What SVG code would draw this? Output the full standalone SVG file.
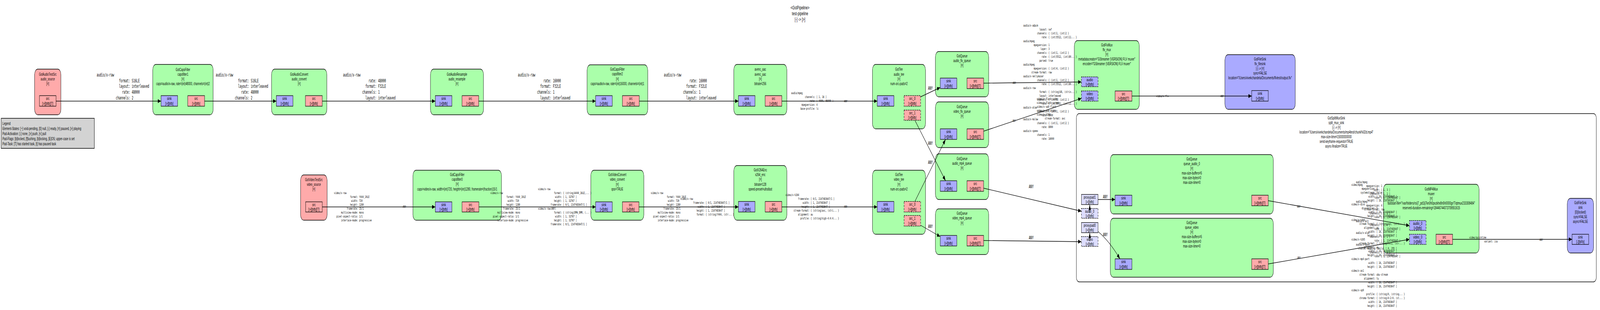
<svg xmlns="http://www.w3.org/2000/svg" width="6936" height="794" viewBox="0 0 6936 794" preserveAspectRatio="none">
<style>
svg{width:100vw;height:100vh;display:block}
.nd{stroke:#000;stroke-width:1.3}
.g{fill:#aaffaa}.r{fill:#ffaaaa}.b{fill:#aaaaff}
.ps{fill:#aaaaff;stroke:#000;stroke-width:1.3}
.pr{fill:#ffaaaa;stroke:#000;stroke-width:1.3}
.pg{fill:#ddddff;stroke:#000;stroke-width:1.3}
.d{stroke-dasharray:5,3}
text{fill:#000}
.t{font-family:"Liberation Sans",Arial,sans-serif;font-size:10.3px;text-anchor:middle}
.p{font-family:"Liberation Sans",Arial,sans-serif;font-size:11.3px;text-anchor:middle}
.lg{font-family:"Liberation Sans",Arial,sans-serif;font-size:10.5px}
.ti{font-family:"Liberation Sans",Arial,sans-serif;font-size:13px;text-anchor:middle}
.m{font-family:"DejaVu Sans Mono","Liberation Mono",monospace;font-size:11.4px}
.s{font-family:"DejaVu Sans Mono","Liberation Mono",monospace;font-size:8.2px}
.k{text-anchor:end}
.e{fill:none;stroke:#000;stroke-width:1.3;marker-end:url(#ah)}
</style>
<defs>
<marker id="ah" viewBox="0 0 14 10" refX="14" refY="5" markerWidth="14" markerHeight="10" orient="auto" markerUnits="userSpaceOnUse"><path d="M0,0 L14,5 L0,10 z" fill="#000"/></marker>
</defs>
<rect width="6936" height="794" fill="#fff"/>

<g id="title">
<text class="ti" x="3468" y="24">&lt;GstPipeline&gt;</text>
<text class="ti" x="3468" y="39">test-pipeline</text>
<text class="ti" x="3468" y="54">[-] -&gt; [&gt;]</text>
</g>

<g id="legend">
<rect x="5" y="303" width="404" height="77" fill="#d3d3d3" stroke="#000" stroke-width="1.5"/>
<text class="lg" x="10.5" y="320">Legend</text>
<text class="lg" x="10.5" y="333">Element-States: [~] void-pending, [0] null, [-] ready, [=] paused, [&gt;] playing</text>
<text class="lg" x="10.5" y="346">Pad-Activation: [-] none, [&gt;] push, [&lt;] pull</text>
<text class="lg" x="10.5" y="359">Pad-Flags: [b]locked, [f]lushing, [b]locking, [E]OS; upper-case is set</text>
<text class="lg" x="10.5" y="372">Pad-Task: [T] has started task, [t] has paused task</text>
</g>

<g id="split_mux_sink">
<rect x="4666" y="291" width="2254" height="431" rx="12" fill="#fff" stroke="#000" stroke-width="1.3"/>
<text class="t" x="5793" y="306">GstSplitMuxSink</text>
<text class="t" x="5793" y="318">split_mux_sink</text>
<text class="t" x="5793" y="330">[-] -&gt; [=]</text>
<text class="t" x="5793" y="342">location="/Users/vivekchandela/Documents/mp4test/chunk%02d.mp4"</text>
<text class="t" x="5793" y="354">max-size-time=15000000000</text>
<text class="t" x="5793" y="366">send-keyframe-requests=TRUE</text>
<text class="t" x="5793" y="378">async-finalize=TRUE</text>
<rect class="pg" x="4688" y="498" width="72" height="26"/><text class="p" x="4724" y="509">proxypad1</text><text class="p" x="4724" y="521.5">[&gt;][bfb]</text>
<rect class="pg d" x="4688" y="534" width="72" height="25"/><text class="p" x="4724" y="545">audio_0</text><text class="p" x="4724" y="557">[&gt;][bfb]</text>
<rect class="pg" x="4688" y="570" width="72" height="26"/><text class="p" x="4724" y="581">proxypad0</text><text class="p" x="4724" y="593.5">[&gt;][bfb]</text>
<rect class="pg d" x="4688" y="606" width="72" height="25"/><text class="p" x="4724" y="617">video</text><text class="p" x="4724" y="629">[&gt;][bfb]</text>
</g>

<g id="audio_source">
<rect class="nd r" x="150" y="177" width="114" height="117" rx="14"/>
<text class="t" x="207" y="194">GstAudioTestSrc</text><text class="t" x="207" y="206">audio_source</text><text class="t" x="207" y="218">[=]</text>
<rect class="pr" x="171" y="245" width="72" height="27"/><text class="p" x="207" y="256.5">src</text><text class="p" x="207" y="269">[&gt;][bfb][T]</text>
</g>

<g id="capsfilter1">
<rect class="nd g" x="662" y="165" width="262" height="129" rx="14"/>
<text class="t" x="793" y="182">GstCapsFilter</text><text class="t" x="793" y="194">capsfilter1</text><text class="t" x="793" y="206">[=]</text><text class="t" x="793" y="218">caps=audio/x-raw, rate=(int)48000, channels=(int)2</text>
<rect class="ps" x="698" y="245" width="72" height="27"/><text class="p" x="734" y="256.5">sink</text><text class="p" x="734" y="269">[&gt;][bfb]</text>
<rect class="pr" x="814" y="245" width="73" height="27"/><text class="p" x="850.5" y="256.5">src</text><text class="p" x="850.5" y="269">[&gt;][bfb]</text>
</g>

<g id="audio_convert">
<rect class="nd g" x="1177" y="177" width="240" height="117" rx="14"/>
<text class="t" x="1297" y="194">GstAudioConvert</text><text class="t" x="1297" y="206">audio_convert</text><text class="t" x="1297" y="218">[=]</text>
<rect class="ps" x="1198" y="245" width="72" height="27"/><text class="p" x="1234" y="256.5">sink</text><text class="p" x="1234" y="269">[&gt;][bfb]</text>
<rect class="pr" x="1324" y="245" width="73" height="27"/><text class="p" x="1360.5" y="256.5">src</text><text class="p" x="1360.5" y="269">[&gt;][bfb]</text>
</g>

<g id="audio_resample">
<rect class="nd g" x="1866" y="177" width="230" height="117" rx="14"/>
<text class="t" x="1981" y="194">GstAudioResample</text><text class="t" x="1981" y="206">audio_resample</text><text class="t" x="1981" y="218">[=]</text>
<rect class="ps" x="1887" y="245" width="72" height="27"/><text class="p" x="1923" y="256.5">sink</text><text class="p" x="1923" y="269">[&gt;][bfb]</text>
<rect class="pr" x="2003" y="245" width="72" height="27"/><text class="p" x="2039" y="256.5">src</text><text class="p" x="2039" y="269">[&gt;][bfb]</text>
</g>

<g id="capsfilter2">
<rect class="nd g" x="2545" y="166" width="263" height="128" rx="14"/>
<text class="t" x="2676.5" y="181">GstCapsFilter</text><text class="t" x="2676.5" y="193">capsfilter2</text><text class="t" x="2676.5" y="206">[=]</text><text class="t" x="2676.5" y="218">caps=audio/x-raw, rate=(int)16000, channels=(int)1</text>
<rect class="ps" x="2582" y="245" width="72" height="27"/><text class="p" x="2618" y="256.5">sink</text><text class="p" x="2618" y="269">[&gt;][bfb]</text>
<rect class="pr" x="2698" y="245" width="73" height="27"/><text class="p" x="2734.5" y="256.5">src</text><text class="p" x="2734.5" y="269">[&gt;][bfb]</text>
</g>

<g id="avenc_aac">
<rect class="nd g" x="3181" y="165" width="230" height="129" rx="14"/>
<text class="t" x="3296" y="181">avenc_aac</text><text class="t" x="3296" y="194">avenc_aac</text><text class="t" x="3296" y="206">[=]</text><text class="t" x="3296" y="218">bitrate=256</text>
<rect class="ps" x="3201" y="245" width="72" height="27"/><text class="p" x="3237" y="256.5">sink</text><text class="p" x="3237" y="269">[&gt;][bfb]</text>
<rect class="pr" x="3317" y="245" width="72" height="27"/><text class="p" x="3353" y="256.5">src</text><text class="p" x="3353" y="269">[&gt;][bfb]</text>
</g>

<g id="audio_tee">
<rect class="nd g" x="3782" y="165" width="230" height="165" rx="14"/>
<text class="t" x="3897" y="181">GstTee</text><text class="t" x="3897" y="194">audio_tee</text><text class="t" x="3897" y="206">[=]</text><text class="t" x="3897" y="218">num-src-pads=2</text>
<rect class="ps" x="3803" y="245" width="72" height="27"/><text class="p" x="3839" y="256.5">sink</text><text class="p" x="3839" y="269">[&gt;][bfb]</text>
<rect class="pr d" x="3919" y="245" width="72" height="27"/><text class="p" x="3955" y="256.5">src_0</text><text class="p" x="3955" y="269">[&gt;][bfb]</text>
<rect class="pr d" x="3919" y="282" width="72" height="26"/><text class="p" x="3955" y="293">src_1</text><text class="p" x="3955" y="305.5">[&gt;][bfb]</text>
</g>

<g id="video_source">
<rect class="nd r" x="1303" y="448" width="115" height="116" rx="14"/>
<text class="t" x="1360.5" y="464">GstVideoTestSrc</text><text class="t" x="1360.5" y="476">video_source</text><text class="t" x="1360.5" y="488">[=]</text>
<rect class="pr" x="1325" y="517" width="72" height="26"/><text class="p" x="1361" y="528">src</text><text class="p" x="1361" y="540.5">[&gt;][bfb][T]</text>
</g>

<g id="capsfilter0">
<rect class="nd g" x="1790" y="436" width="384" height="128" rx="14"/>
<text class="t" x="1982" y="451">GstCapsFilter</text><text class="t" x="1982" y="463">capsfilter0</text><text class="t" x="1982" y="475">[=]</text><text class="t" x="1982" y="488">caps=video/x-raw, width=(int)720, height=(int)1280, framerate=(fraction)15/1</text>
<rect class="ps" x="1887" y="517" width="72" height="26"/><text class="p" x="1923" y="528">sink</text><text class="p" x="1923" y="540.5">[&gt;][bfb]</text>
<rect class="pr" x="2003" y="517" width="73" height="26"/><text class="p" x="2039.5" y="528">src</text><text class="p" x="2039.5" y="540.5">[&gt;][bfb]</text>
</g>

<g id="video_convert">
<rect class="nd g" x="2561" y="436" width="230" height="128" rx="14"/>
<text class="t" x="2676" y="451">GstVideoConvert</text><text class="t" x="2676" y="463">video_convert</text><text class="t" x="2676" y="476">[=]</text><text class="t" x="2676" y="488">qos=TRUE</text>
<rect class="ps" x="2582" y="517" width="72" height="26"/><text class="p" x="2618" y="528">sink</text><text class="p" x="2618" y="540.5">[&gt;][bfb]</text>
<rect class="pr" x="2698" y="517" width="72" height="26"/><text class="p" x="2734" y="528">src</text><text class="p" x="2734" y="540.5">[&gt;][bfb]</text>
</g>

<g id="x264_enc">
<rect class="nd g" x="3181" y="424" width="230" height="140" rx="14"/>
<text class="t" x="3296" y="439">GstX264Enc</text><text class="t" x="3296" y="451">x264_enc</text><text class="t" x="3296" y="463">[=]</text><text class="t" x="3296" y="476">bitrate=128</text><text class="t" x="3296" y="488">speed-preset=ultrafast</text>
<rect class="ps" x="3201" y="516" width="72" height="27"/><text class="p" x="3237" y="527.5">sink</text><text class="p" x="3237" y="540">[&gt;][bfb]</text>
<rect class="pr" x="3317" y="516" width="72" height="27"/><text class="p" x="3353" y="527.5">src</text><text class="p" x="3353" y="540">[&gt;][bfb]</text>
</g>

<g id="video_tee">
<rect class="nd g" x="3782" y="436" width="230" height="164" rx="14"/>
<text class="t" x="3897" y="451">GstTee</text><text class="t" x="3897" y="463">video_tee</text><text class="t" x="3897" y="476">[=]</text><text class="t" x="3897" y="488">num-src-pads=2</text>
<rect class="ps" x="3803" y="516" width="72" height="27"/><text class="p" x="3839" y="527.5">sink</text><text class="p" x="3839" y="540">[&gt;][bfb]</text>
<rect class="pr d" x="3919" y="516" width="72" height="27"/><text class="p" x="3955" y="527.5">src_0</text><text class="p" x="3955" y="540">[&gt;][bfb]</text>
<rect class="pr d" x="3919" y="552" width="72" height="27"/><text class="p" x="3955" y="563.5">src_1</text><text class="p" x="3955" y="576">[&gt;][bfb]</text>
</g>

<g id="audio_flv_queue">
<rect class="nd g" x="4055" y="132" width="231" height="116" rx="14"/>
<text class="t" x="4170.5" y="147">GstQueue</text><text class="t" x="4170.5" y="159">audio_flv_queue</text><text class="t" x="4170.5" y="171">[=]</text>
<rect class="ps" x="4076" y="200" width="72" height="27"/><text class="p" x="4112" y="211.5">sink</text><text class="p" x="4112" y="224">[&gt;][bfb]</text>
<rect class="pr" x="4192" y="200" width="72" height="27"/><text class="p" x="4228" y="211.5">src</text><text class="p" x="4228" y="224">[&gt;][bfb][T]</text>
</g>

<g id="video_flv_queue">
<rect class="nd g" x="4055" y="261" width="231" height="117" rx="14"/>
<text class="t" x="4170.5" y="277">GstQueue</text><text class="t" x="4170.5" y="289">video_flv_queue</text><text class="t" x="4170.5" y="301">[=]</text>
<rect class="ps" x="4076" y="330" width="72" height="27"/><text class="p" x="4112" y="341.5">sink</text><text class="p" x="4112" y="354">[&gt;][bfb]</text>
<rect class="pr" x="4192" y="330" width="72" height="27"/><text class="p" x="4228" y="341.5">src</text><text class="p" x="4228" y="354">[&gt;][bfb][T]</text>
</g>

<g id="audio_mp4_queue">
<rect class="nd g" x="4055" y="394" width="231" height="117" rx="14"/>
<text class="t" x="4170.5" y="410">GstQueue</text><text class="t" x="4170.5" y="422">audio_mp4_queue</text><text class="t" x="4170.5" y="434">[=]</text>
<rect class="ps" x="4076" y="463" width="72" height="27"/><text class="p" x="4112" y="474.5">sink</text><text class="p" x="4112" y="487">[&gt;][bfb]</text>
<rect class="pr" x="4192" y="463" width="72" height="27"/><text class="p" x="4228" y="474.5">src</text><text class="p" x="4228" y="487">[&gt;][bfb][T]</text>
</g>

<g id="video_mp4_queue">
<rect class="nd g" x="4055" y="535" width="231" height="117" rx="14"/>
<text class="t" x="4170.5" y="550">GstQueue</text><text class="t" x="4170.5" y="562">video_mp4_queue</text><text class="t" x="4170.5" y="575">[=]</text>
<rect class="ps" x="4076" y="603" width="72" height="27"/><text class="p" x="4112" y="614.5">sink</text><text class="p" x="4112" y="627">[&gt;][bfb]</text>
<rect class="pr" x="4192" y="603" width="72" height="27"/><text class="p" x="4228" y="614.5">src</text><text class="p" x="4228" y="627">[&gt;][bfb][T]</text>
</g>

<g id="flv_mux">
<rect class="nd g" x="4657" y="104" width="282" height="176" rx="14"/>
<text class="t" x="4798" y="119">GstFlvMux</text><text class="t" x="4798" y="131">flv_mux</text><text class="t" x="4798" y="143">[=]</text><text class="t" x="4798" y="155">metadatacreator="GStreamer {VERSION} FLV muxer"</text><text class="t" x="4798" y="167">encoder="GStreamer {VERSION} FLV muxer"</text>
<rect class="ps d" x="4688" y="197" width="72" height="25"/><text class="p" x="4724" y="208">audio</text><text class="p" x="4724" y="220">[&gt;][bfb]</text>
<rect class="ps d" x="4688" y="233" width="72" height="26"/><text class="p" x="4724" y="244">video</text><text class="p" x="4724" y="256.5">[&gt;][bfb]</text>
<rect class="pr" x="4834" y="233" width="73" height="26"/><text class="p" x="4870.5" y="244">src</text><text class="p" x="4870.5" y="256.5">[&gt;][bfb][T]</text>
</g>

<g id="flv_filesink">
<rect class="nd b" x="5310" y="140" width="305" height="140" rx="14"/>
<text class="t" x="5462.5" y="155">GstFileSink</text><text class="t" x="5462.5" y="167">flv_filesink</text><text class="t" x="5462.5" y="179">[-] -&gt; [=]</text><text class="t" x="5462.5" y="191">sync=FALSE</text><text class="t" x="5462.5" y="203">location="/Users/vivekchandela/Documents/flvtest/output.flv"</text>
<rect class="ps" x="5426" y="232" width="72" height="27"/><text class="p" x="5462" y="243.5">sink</text><text class="p" x="5462" y="256">[&gt;][bfb]</text>
</g>

<g id="queue_audio_0">
<rect class="nd g" x="4813" y="396" width="707" height="152" rx="14"/>
<text class="t" x="5166.5" y="411">GstQueue</text><text class="t" x="5166.5" y="423">queue_audio_0</text><text class="t" x="5166.5" y="435">[=]</text><text class="t" x="5166.5" y="447">max-size-buffers=5</text><text class="t" x="5166.5" y="459">max-size-bytes=0</text><text class="t" x="5166.5" y="471">max-size-time=0</text>
<rect class="ps" x="4834" y="500" width="73" height="27"/><text class="p" x="4870.5" y="511.5">sink</text><text class="p" x="4870.5" y="524">[&gt;][bfb]</text>
<rect class="pr" x="5426" y="500" width="72" height="27"/><text class="p" x="5462" y="511.5">src</text><text class="p" x="5462" y="524">[&gt;][bfb][T]</text>
</g>

<g id="queue_video">
<rect class="nd g" x="4813" y="559" width="707" height="151" rx="14"/>
<text class="t" x="5166.5" y="574">GstQueue</text><text class="t" x="5166.5" y="586">queue_video</text><text class="t" x="5166.5" y="598">[=]</text><text class="t" x="5166.5" y="610">max-size-buffers=5</text><text class="t" x="5166.5" y="622">max-size-bytes=0</text><text class="t" x="5166.5" y="634">max-size-time=0</text>
<rect class="ps" x="4834" y="663" width="73" height="27"/><text class="p" x="4870.5" y="674.5">sink</text><text class="p" x="4870.5" y="687">[&gt;][bfb]</text>
<rect class="pr" x="5426" y="663" width="72" height="27"/><text class="p" x="5462" y="674.5">src</text><text class="p" x="5462" y="687">[&gt;][bfb][T]</text>
</g>

<g id="muxer">
<rect class="nd g" x="5997" y="472" width="415" height="176" rx="14"/>
<text class="t" x="6204.5" y="488">GstMP4Mux</text><text class="t" x="6204.5" y="500">muxer</text><text class="t" x="6204.5" y="512">[=]</text><text class="t" x="6204.5" y="524">faststart-file="/var/folders/rs/j7_pd1lj7kn0h0pxzkhx8n5h0000gr/T/qtmux233308484"</text><text class="t" x="6204.5" y="536">reserved-duration-remaining=18446744073709551615</text>
<rect class="ps d" x="6110" y="565" width="72" height="25"/><text class="p" x="6146" y="576">audio_0</text><text class="p" x="6146" y="588">[&gt;][bfb]</text>
<rect class="ps d" x="6110" y="600" width="72" height="26"/><text class="p" x="6146" y="611">video_0</text><text class="p" x="6146" y="623.5">[&gt;][bfb]</text>
<rect class="pr" x="6225" y="600" width="72" height="26"/><text class="p" x="6261" y="611">src</text><text class="p" x="6261" y="623.5">[&gt;][bfb][T]</text>
</g>

<g id="sink">
<rect class="nd b" x="6794" y="508" width="114" height="140" rx="14"/>
<text class="t" x="6851" y="523">GstFileSink</text><text class="t" x="6851" y="535">sink</text><text class="t" x="6851" y="547">[0](locked)</text><text class="t" x="6851" y="559">sync=FALSE</text><text class="t" x="6851" y="571">async=FALSE</text>
<rect class="ps" x="6815" y="600" width="72" height="26"/><text class="p" x="6851" y="611">sink</text><text class="p" x="6851" y="623.5">[-][bFb]</text>
</g>

<g id="connectors">
<path class="e" d="M243,259 H698"/>
<path class="e" d="M887,259 H1198"/>
<path class="e" d="M1397,259 H1887"/>
<path class="e" d="M2075,259 H2582"/>
<path class="e" d="M2771,259 H3201"/>
<path class="e" d="M3389,259 H3803"/>
<path class="e" d="M1397,530 H1887"/>
<path class="e" d="M2076,530 H2582"/>
<path class="e" d="M2770,530 H3201"/>
<path class="e" d="M3389,530 H3803"/>
<path class="e" d="M3991,248 L4076,224"/>
<path class="e" d="M3966,308 L4099,463"/>
<path class="e" d="M3966,516 L4099,357"/>
<path class="e" d="M3991,577 L4076,606"/>
<path class="e" d="M4264,213 L4688,210"/>
<path class="e" d="M4264,336 L4688,252"/>
<path class="e" d="M4264,482 L4688,541"/>
<path class="e" d="M4264,616 L4688,619"/>
<path class="e" d="M4907,246 H5426"/>
<path class="e" d="M4760,511 H4834"/>
<path class="e" d="M4760,593 Q4810,618 4855,663"/>
<path class="e" d="M4724,546 V524"/>
<path class="e" d="M4724,618 V596"/>
<path class="e" d="M5498,514 L6110,578"/>
<path class="e" d="M5498,676 L6110,613"/>
<path class="e" d="M6297,613 H6815"/>

<g class="m" transform="translate(564,0)">
<text x="-145" y="196">audio/x-raw</text>
<text class="k" y="211">format:</text><text x="7" y="211">S16LE</text>
<text class="k" y="225">layout:</text><text x="7" y="225">interleaved</text>
<text class="k" y="240">rate:</text><text x="7" y="240">48000</text>
<text class="k" y="255">channels:</text><text x="7" y="255">2</text>
</g>
<g class="m" transform="translate(1080,0)">
<text x="-145" y="196">audio/x-raw</text>
<text class="k" y="211">format:</text><text x="7" y="211">S16LE</text>
<text class="k" y="225">layout:</text><text x="7" y="225">interleaved</text>
<text class="k" y="240">rate:</text><text x="7" y="240">48000</text>
<text class="k" y="255">channels:</text><text x="7" y="255">2</text>
</g>
<g class="m" transform="translate(1632,0)">
<text x="-145" y="196">audio/x-raw</text>
<text class="k" y="211">rate:</text><text x="7" y="211">48000</text>
<text class="k" y="225">format:</text><text x="7" y="225">F32LE</text>
<text class="k" y="240">channels:</text><text x="7" y="240">1</text>
<text class="k" y="255">layout:</text><text x="7" y="255">interleaved</text>
</g>
<g class="m" transform="translate(2390,0)">
<text x="-145" y="196">audio/x-raw</text>
<text class="k" y="211">rate:</text><text x="7" y="211">16000</text>
<text class="k" y="225">format:</text><text x="7" y="225">F32LE</text>
<text class="k" y="240">channels:</text><text x="7" y="240">1</text>
<text class="k" y="255">layout:</text><text x="7" y="255">interleaved</text>
</g>
<g class="m" transform="translate(3023,0)">
<text x="-145" y="196">audio/x-raw</text>
<text class="k" y="211">rate:</text><text x="7" y="211">16000</text>
<text class="k" y="225">format:</text><text x="7" y="225">F32LE</text>
<text class="k" y="240">channels:</text><text x="7" y="240">1</text>
<text class="k" y="255">layout:</text><text x="7" y="255">interleaved</text>
</g>

<g class="s" transform="translate(3534,0)">
<text x="-104" y="241">audio/mpeg</text>
<text class="k" y="251">channels:</text><text x="5" y="251">[ 1, 16 ]</text>
<text class="k" y="261">rate:</text><text x="5" y="261">[ 4000, 96000 ]</text>
<text class="k" y="271">mpegversion:</text><text x="5" y="271">4</text>
<text class="k" y="281">base-profile:</text><text x="5" y="281">lc</text>
</g>
<text class="s" x="3659" y="262">ANY</text>

<g class="s" transform="translate(1552,0)">
<text x="-104" y="497">video/x-raw</text>
<text class="k" y="507">format:</text><text x="5" y="507">Y444_10LE</text>
<text class="k" y="517">width:</text><text x="5" y="517">720</text>
<text class="k" y="527">height:</text><text x="5" y="527">1280</text>
<text class="k" y="537">framerate:</text><text x="5" y="537">15/1</text>
<text class="k" y="547">multiview-mode:</text><text x="5" y="547">mono</text>
<text class="k" y="557">pixel-aspect-ratio:</text><text x="5" y="557">1/1</text>
<text class="k" y="567">interlace-mode:</text><text x="5" y="567">progressive</text>
</g>
<text class="s" x="1746" y="532">ANY</text>

<g class="s" transform="translate(2230,0)">
<text x="-104" y="497">video/x-raw</text>
<text class="k" y="507">format:</text><text x="5" y="507">Y444_10LE</text>
<text class="k" y="517">width:</text><text x="5" y="517">720</text>
<text class="k" y="527">height:</text><text x="5" y="527">1280</text>
<text class="k" y="537">framerate:</text><text x="5" y="537">15/1</text>
<text class="k" y="547">multiview-mode:</text><text x="5" y="547">mono</text>
<text class="k" y="557">pixel-aspect-ratio:</text><text x="5" y="557">1/1</text>
<text class="k" y="567">interlace-mode:</text><text x="5" y="567">progressive</text>
</g>
<g class="s" transform="translate(2436,0)">
<text x="-104" y="487">video/x-raw</text>
<text class="k" y="497">format:</text><text x="5" y="497">{ (string)A444_16LE,... }</text>
<text class="k" y="507">width:</text><text x="5" y="507">[ 1, 32767 ]</text>
<text class="k" y="517">height:</text><text x="5" y="517">[ 1, 32767 ]</text>
<text class="k" y="527">framerate:</text><text x="5" y="527">[ 0/1, 2147483647/1 ]</text>
<text x="-104" y="537">video/x-raw(ANY)</text>
<text class="k" y="547">format:</text><text x="5" y="547">{ (string)DMA_DRM, (... }</text>
<text class="k" y="557">width:</text><text x="5" y="557">[ 1, 32767 ]</text>
<text class="k" y="567">height:</text><text x="5" y="567">[ 1, 32767 ]</text>
<text class="k" y="577">framerate:</text><text x="5" y="577">[ 0/1, 2147483647/1 ]</text>
</g>

<g class="s" transform="translate(2925,0)">
<text x="-104" y="497">video/x-raw</text>
<text class="k" y="507">format:</text><text x="5" y="507">Y444_10LE</text>
<text class="k" y="517">width:</text><text x="5" y="517">720</text>
<text class="k" y="527">height:</text><text x="5" y="527">1280</text>
<text class="k" y="537">framerate:</text><text x="5" y="537">15/1</text>
<text class="k" y="547">multiview-mode:</text><text x="5" y="547">mono</text>
<text class="k" y="557">pixel-aspect-ratio:</text><text x="5" y="557">1/1</text>
<text class="k" y="567">interlace-mode:</text><text x="5" y="567">progressive</text>
</g>
<g class="s" transform="translate(3054,0)">
<text x="-104" y="512">video/x-raw</text>
<text class="k" y="522">framerate:</text><text x="5" y="522">[ 0/1, 2147483647/1 ]</text>
<text class="k" y="532">width:</text><text x="5" y="532">[ 1, 2147483647 ]</text>
<text class="k" y="542">height:</text><text x="5" y="542">[ 1, 2147483647 ]</text>
<text class="k" y="552">format:</text><text x="5" y="552">{ (string)Y444, (str... }</text>
</g>

<g class="s" transform="translate(3509,0)">
<text x="-104" y="502">video/x-h264</text>
<text class="k" y="512">framerate:</text><text x="5" y="512">[ 0/1, 2147483647/1 ]</text>
<text class="k" y="522">width:</text><text x="5" y="522">[ 1, 2147483647 ]</text>
<text class="k" y="532">height:</text><text x="5" y="532">[ 1, 2147483647 ]</text>
<text class="k" y="542">stream-format:</text><text x="5" y="542">{ (string)avc, (stri... }</text>
<text class="k" y="552">alignment:</text><text x="5" y="552">au</text>
<text class="k" y="562">profile:</text><text x="5" y="562">{ (string)high-4:4:4... }</text>
</g>
<text class="s" x="3659" y="532">ANY</text>

<text class="m" x="4023" y="230">ANY</text>
<text class="m" x="4023" y="371">ANY</text>
<text class="m" x="4023" y="420">ANY</text>
<text class="m" x="4023" y="584">ANY</text>

<text class="s" x="4390" y="215">ANY</text>
<g class="s" transform="translate(4540,0)">
<text x="-104" y="68">audio/x-adpcm</text>
<text class="k" y="78">layout:</text><text x="5" y="78">swf</text>
<text class="k" y="88">channels:</text><text x="5" y="88">{ (int)1, (int)2 }</text>
<text class="k" y="98">rate:</text><text x="5" y="98">{ (int)5512, (int)11... }</text>
<text x="-104" y="108">audio/mpeg</text>
<text class="k" y="118">mpegversion:</text><text x="5" y="118">1</text>
<text class="k" y="128">layer:</text><text x="5" y="128">3</text>
<text class="k" y="138">channels:</text><text x="5" y="138">{ (int)1, (int)2 }</text>
<text class="k" y="148">rate:</text><text x="5" y="148">{ (int)5512, (int)80... }</text>
<text class="k" y="158">parsed:</text><text x="5" y="158">true</text>
<text x="-104" y="168">audio/mpeg</text>
<text class="k" y="178">mpegversion:</text><text x="5" y="178">{ (int)4, (int)2 }</text>
<text class="k" y="188">stream-format:</text><text x="5" y="188">raw</text>
<text x="-104" y="198">audio/x-nellymoser</text>
<text class="k" y="208">channels:</text><text x="5" y="208">{ (int)1, (int)2 }</text>
<text class="k" y="218">rate:</text><text x="5" y="218">{ (int)5512, (int)80... }</text>
<text x="-104" y="228">audio/x-raw</text>
<text class="k" y="238">format:</text><text x="5" y="238">{ (string)U8, (strin... }</text>
<text class="k" y="248">layout:</text><text x="5" y="248">interleaved</text>
<text class="k" y="258">channels:</text><text x="5" y="258">{ (int)1, (int)2 }</text>
<text class="k" y="268">rate:</text><text x="5" y="268">{ (int)5512, (int)11... }</text>
<text x="-104" y="278">audio/x-alaw</text>
<text class="k" y="288">channels:</text><text x="5" y="288">{ (int)1, (int)2 }</text>
<text class="k" y="298">rate:</text><text x="5" y="298">8000</text>
<text x="-104" y="308">audio/x-mulaw</text>
<text class="k" y="318">channels:</text><text x="5" y="318">{ (int)1, (int)2 }</text>
<text class="k" y="328">rate:</text><text x="5" y="328">8000</text>
<text x="-104" y="338">audio/x-speex</text>
<text class="k" y="348">channels:</text><text x="5" y="348">1</text>
<text class="k" y="358">rate:</text><text x="5" y="358">16000</text>
</g>

<text class="s" x="4389" y="312">ANY</text>
<g class="s" transform="translate(4598,0)">
<text x="-104" y="256">video/x-flash-video</text>
<text x="-104" y="266">video/x-flash-screen</text>
<text x="-104" y="276">video/x-vp6-flash</text>
<text x="-104" y="286">video/x-vp6-alpha</text>
<text x="-104" y="296">video/x-h264</text>
<text class="k" y="306">stream-format:</text><text x="5" y="306">avc</text>
</g>

<text class="m" x="4460" y="482">ANY</text>
<text class="m" x="4460" y="613">ANY</text>
<text class="s" x="5012" y="249">video/x-flv</text>
<text class="s" x="5291" y="249">ANY</text>
<text class="m" x="4781" y="508">ANY</text>
<text class="m" x="4781" y="605">ANY</text>

<text class="s" x="5623" y="532">ANY</text>
<g class="s" transform="translate(5982,0)">
<text x="-104" y="469">audio/mpeg</text>
<text class="k" y="479">mpegversion:</text><text x="5" y="479">1</text>
<text class="k" y="489">layer:</text><text x="5" y="489">[ 1, 3 ]</text>
<text class="k" y="499">channels:</text><text x="5" y="499">[ 1, 2 ]</text>
<text class="k" y="509">rate:</text><text x="5" y="509">[ 1, 2147483647 ]</text>
<text x="-104" y="519">audio/mpeg</text>
<text class="k" y="529">mpegversion:</text><text x="5" y="529">4</text>
<text class="k" y="539">stream-format:</text><text x="5" y="539">raw</text>
<text class="k" y="549">channels:</text><text x="5" y="549">[ 1, 8 ]</text>
<text class="k" y="559">rate:</text><text x="5" y="559">[ 1, 2147483647 ]</text>
<text x="-104" y="569">audio/x-ac3</text>
<text class="k" y="579">channels:</text><text x="5" y="579">[ 1, 6 ]</text>
<text class="k" y="589">rate:</text><text x="5" y="589">[ 1, 2147483647 ]</text>
<text x="-104" y="599">audio/x-alac</text>
<text class="k" y="609">channels:</text><text x="5" y="609">[ 1, 2 ]</text>
<text class="k" y="619">rate:</text><text x="5" y="619">[ 1, 2147483647 ]</text>
<text x="-104" y="629">audio/x-opus</text>
<text x="-94" y="639">channel-mapping-family: [ 0, 255 ]</text>
<text class="k" y="649">channels:</text><text x="5" y="649">[ 1, 8 ]</text>
<text class="k" y="659">rate:</text><text x="5" y="659">[ 1, 2147483647 ]</text>
</g>

<text class="s" x="5624" y="663">ANY</text>
<g class="s" transform="translate(5962,0)">
<text x="-104" y="476">video/mpeg</text>
<text class="k" y="486">mpegversion:</text><text x="5" y="486">4</text>
<text class="k" y="496">systemstream:</text><text x="5" y="496">false</text>
<text class="k" y="506">width:</text><text x="5" y="506">[ 16, 2147483647 ]</text>
<text class="k" y="516">height:</text><text x="5" y="516">[ 16, 2147483647 ]</text>
<text x="-104" y="526">video/x-divx</text>
<text class="k" y="536">divxversion:</text><text x="5" y="536">5</text>
<text class="k" y="546">width:</text><text x="5" y="546">[ 16, 2147483647 ]</text>
<text class="k" y="556">height:</text><text x="5" y="556">[ 16, 2147483647 ]</text>
<text x="-104" y="566">video/x-h264</text>
<text class="k" y="576">stream-format:</text><text x="5" y="576">{ (string)avc, (stri... }</text>
<text class="k" y="586">alignment:</text><text x="5" y="586">au</text>
<text class="k" y="596">width:</text><text x="5" y="596">[ 16, 2147483647 ]</text>
<text class="k" y="606">height:</text><text x="5" y="606">[ 16, 2147483647 ]</text>
<text x="-104" y="616">video/x-h265</text>
<text class="k" y="626">stream-format:</text><text x="5" y="626">{ (string)hvc1, (str... }</text>
<text class="k" y="636">alignment:</text><text x="5" y="636">au</text>
<text class="k" y="646">width:</text><text x="5" y="646">[ 16, 2147483647 ]</text>
<text class="k" y="656">height:</text><text x="5" y="656">[ 16, 2147483647 ]</text>
<text x="-104" y="666">video/x-mp4-part</text>
<text class="k" y="676">width:</text><text x="5" y="676">[ 16, 2147483647 ]</text>
<text class="k" y="686">height:</text><text x="5" y="686">[ 16, 2147483647 ]</text>
<text x="-104" y="696">video/x-av1</text>
<text class="k" y="706">stream-format:</text><text x="5" y="706">obu-stream</text>
<text class="k" y="716">alignment:</text><text x="5" y="716">tu</text>
<text class="k" y="726">width:</text><text x="5" y="726">[ 16, 2147483647 ]</text>
<text class="k" y="736">height:</text><text x="5" y="736">[ 16, 2147483647 ]</text>
<text x="-104" y="746">video/x-vp9</text>
<text class="k" y="756">profile:</text><text x="5" y="756">{ (string)0, (string... }</text>
<text class="k" y="766">chroma-format:</text><text x="5" y="766">{ (string)4:2:0, (st... }</text>
<text class="k" y="776">width:</text><text x="5" y="776">[ 16, 2147483647 ]</text>
<text class="k" y="786">height:</text><text x="5" y="786">[ 16, 2147483647 ]</text>
</g>

<g class="s" transform="translate(6473,0)">
<text x="-104" y="611">video/quicktime</text>
<text class="k" y="621">variant:</text><text x="5" y="621">iso</text>
</g>
<text class="s" x="6674" y="617">ANY</text>
</g>
</svg>
